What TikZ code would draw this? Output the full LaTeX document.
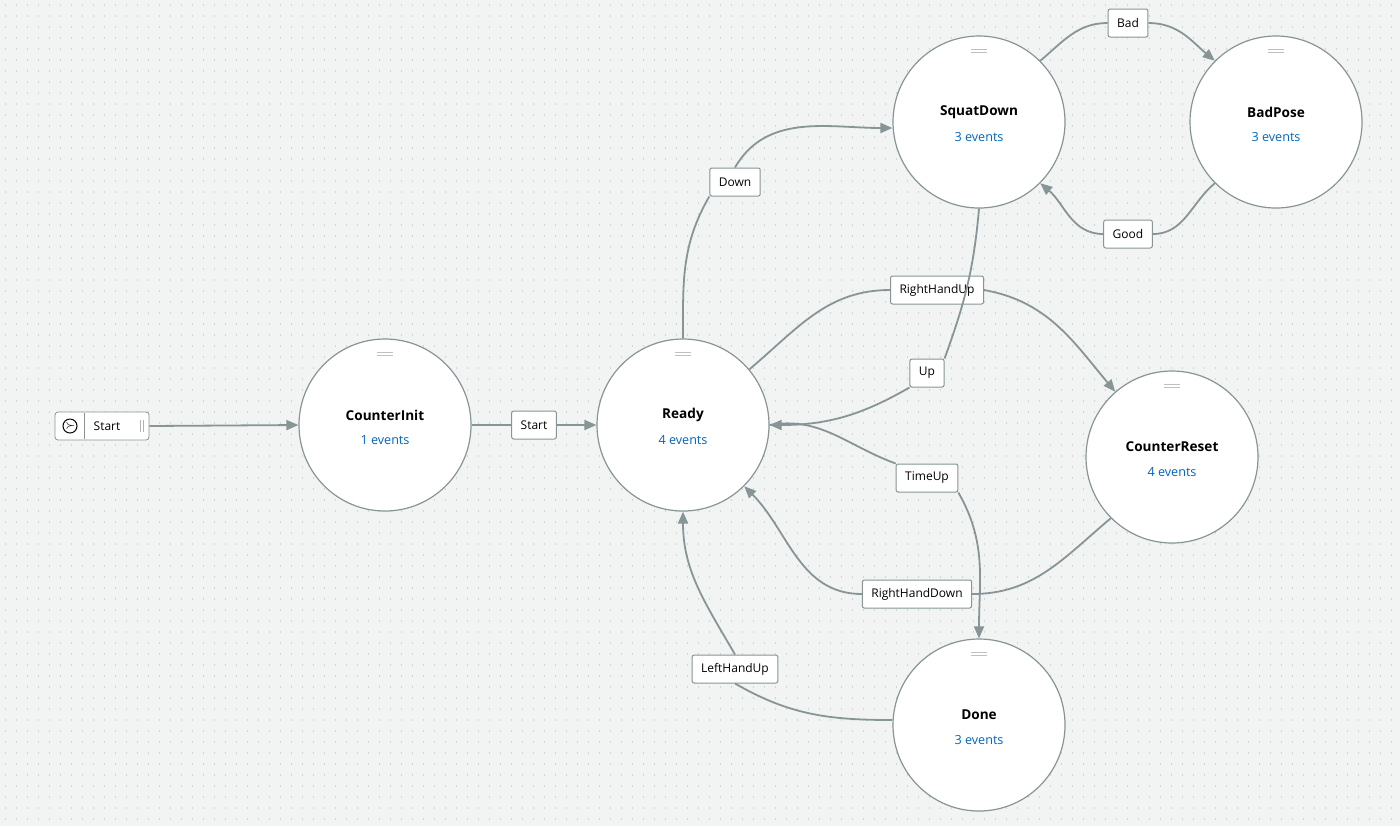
\documentclass[tikz,border=0pt]{standalone}
\usepackage{fontspec}
\setmainfont{Open Sans}
\usetikzlibrary{arrows.meta}
\definecolor{bg}{HTML}{F2F3F3}
\definecolor{dotc}{HTML}{D0D5D5}
\definecolor{edge}{HTML}{879596}
\definecolor{evt}{HTML}{0066C0}
\tikzset{
  state/.style={circle,draw=edge,fill=white,line width=0.6pt,minimum size=86pt,inner sep=0pt},
  lbl/.style={draw=edge,fill=white,rounded corners=1pt,line width=0.5pt,font=\fontsize{6}{7}\selectfont,minimum height=14pt,inner xsep=4.5pt},
  tr/.style={draw=edge,line width=0.9pt,-{Triangle[length=6pt,width=5pt]}},
  ln/.style={draw=edge,line width=0.9pt}
}
\begin{document}
\begin{tikzpicture}[x=0.5pt,y=-0.5pt]
\fill[bg] (0,0) rectangle (1400,826);
\useasboundingbox (0,0) rectangle (1400,826);
\foreach \j in {0,...,74}{\draw[dotc,line width=0.9pt,dash pattern=on 0.9pt off 4.6pt] (4.5,\j*11+5) -- (1400,\j*11+5);}
% states
\foreach \n/\x/\y/\t/\e in {CI/385/425/CounterInit/1,RD/683/425/Ready/4,SD/979/122/SquatDown/3,BP/1276/122/BadPose/3,CR/1172/457/CounterReset/4,DN/979/725/Done/3}{
  \node[state] (\n) at (\x,\y) {};
  \node[font=\fontsize{6.8}{8}\selectfont\bfseries] at (\x,\y-10) {\t};
  \node[font=\fontsize{6.3}{7}\selectfont,text=evt] at (\x,\y+15) {\e{} events};
  \draw[gray!50,line width=0.4pt] (\x-8,\y-73) -- (\x+8,\y-73) (\x-8,\y-70) -- (\x+8,\y-70);
}
% start node
\node[draw=edge,fill=white,rounded corners=1.5pt,minimum width=47pt,minimum height=14pt,inner sep=0pt] (ST) at (102,426) {};
\draw[edge,line width=0.4pt] (84,413) -- (84,439);
\node[draw=black,circle,inner sep=0pt,minimum size=7pt,line width=0.5pt] (SI) at (70,426) {};
\node[font=\fontsize{4}{4}\selectfont] at (70.5,426) {$\succ$};
\node[font=\fontsize{6}{7}\selectfont] at (107,426) {Start};
\draw[gray!60,line width=0.3pt] (140,420)--(140,432) (143,420)--(143,432);
% labels
\node[lbl] (lStart) at (534,425) {Start};
\node[lbl] (lDown) at (735,182) {Down};
\node[lbl] (lBad) at (1128,23) {Bad};
\node[lbl] (lGood) at (1128,234) {Good};
\node[lbl] (lUp) at (927,373) {Up};
\node[lbl] (lRHU) at (937,290) {RightHandUp};
\node[lbl] (lTU) at (927,478) {TimeUp};
\node[lbl] (lRHD) at (917,594) {RightHandDown};
\node[lbl] (lLHU) at (735,669) {LeftHandUp};
% edges
\draw[tr] (ST.east) -- (CI.west);
\draw[ln] (CI.east) -- (lStart.west);
\draw[tr] (lStart.east) -- (RD.west);
\draw[ln] (RD.north) to[out=90,in=-120] (lDown.south west);
\draw[tr] (lDown.north) to[out=60,in=180] (SD.west|-0,128);
\draw[ln] (SD.45) to[out=40,in=180] (lBad.west);
\draw[tr] (lBad.east) to[out=0,in=140] (BP.135);
\draw[ln] (BP.-135) to[out=-140,in=0] (lGood.east);
\draw[tr] (lGood.west) to[out=180,in=-40] (SD.-45);
\draw[ln] (SD.south) to[out=-95,in=70] (lUp.north east);
\draw[tr] (lUp.south west) to[out=-150,in=0] (RD.east);
\draw[ln] (RD.40) to[out=40,in=180] (lRHU.west);
\draw[tr] (lRHU.east) to[out=-10,in=130] (CR.131);
\draw[ln] (RD.east) to[out=10,in=160] (lTU.north west);
\draw[tr] (lTU.south east) to[out=-60,in=90] (DN.north);
\draw[ln] (CR.-135) to[out=-140,in=0] (lRHD.east);
\draw[tr] (lRHD.west) to[out=180,in=-45] (RD.-45);
\draw[ln] (DN.west|-0,720) to[out=180,in=-30] (lLHU.south);
\draw[tr] (lLHU.north) to[out=120,in=-90] (RD.south);
\end{tikzpicture}
\end{document}
